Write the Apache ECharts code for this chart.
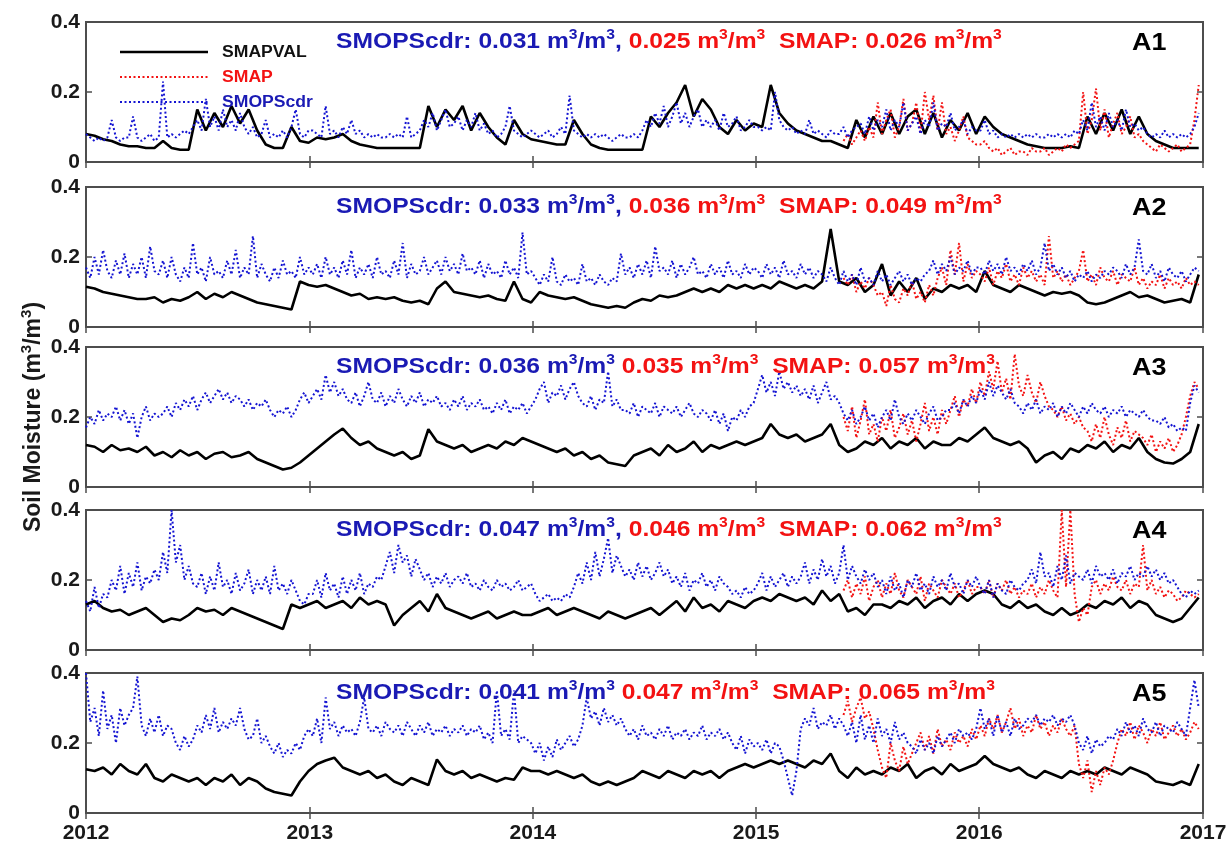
<!DOCTYPE html>
<html>
<head>
<meta charset="utf-8">
<script src="https://cdn.jsdelivr.net/npm/echarts@6/dist/echarts.min.js"></script>
<style>html,body{margin:0;padding:0;background:#fff}#c{width:1230px;height:845px}</style>
</head>
<body>
<div id="c"></div>
<script>
// ---------------- DATA ----------------
const years = ['2012','2013','2014','2015','2016','2017'];
const panelNames = ['A1','A2','A3','A4','A5'];
const smopsErr = ['0.031','0.033','0.036','0.047','0.041'];
const smopsSmapErr = ['0.025','0.036','0.035','0.046','0.047'];
const smapErr = ['0.026','0.049','0.057','0.062','0.065'];
const hasComma = [true, true, false, true, false];

// SMAPVAL (black), one value every 14 days from 2012-01-01
const smapval1 = [0.08,0.075,0.065,0.06,0.05,0.045,0.045,0.04,0.04,0.06,0.04,0.035,0.035,0.15,0.09,0.14,0.1,0.16,0.11,0.15,0.09,0.05,0.04,0.04,0.1,0.06,0.055,
 0.07,0.065,0.07,0.08,0.06,0.05,0.045,0.04,0.04,0.04,0.04,0.04,0.04,0.16,0.1,0.15,0.12,0.16,0.09,0.14,0.1,0.07,0.05,0.12,0.08,0.065,
 0.06,0.055,0.05,0.05,0.12,0.08,0.05,0.04,0.035,0.035,0.035,0.035,0.035,0.13,0.1,0.14,0.17,0.22,0.13,0.18,0.15,0.1,0.08,0.12,0.09,0.11,
 0.1,0.22,0.14,0.11,0.09,0.08,0.07,0.06,0.06,0.05,0.04,0.12,0.07,0.13,0.08,0.14,0.08,0.13,0.15,0.08,0.14,0.07,0.12,0.09,0.14,0.08,
 0.13,0.1,0.08,0.07,0.06,0.05,0.045,0.04,0.04,0.04,0.045,0.04,0.13,0.08,0.14,0.09,0.15,0.08,0.13,0.08,0.06,0.05,0.04,0.04,0.04,0.04];
const smapval2 = [0.115,0.11,0.1,0.095,0.09,0.085,0.08,0.08,0.085,0.07,0.08,0.075,0.085,0.1,0.08,0.095,0.085,0.1,0.09,0.08,0.07,0.065,0.06,0.055,0.05,0.13,0.12,
 0.115,0.12,0.11,0.1,0.09,0.095,0.08,0.085,0.08,0.085,0.075,0.07,0.075,0.065,0.11,0.13,0.1,0.095,0.09,0.085,0.09,0.08,0.075,0.13,0.08,0.07,
 0.1,0.09,0.085,0.08,0.085,0.075,0.065,0.06,0.055,0.06,0.055,0.07,0.08,0.075,0.09,0.085,0.09,0.1,0.11,0.1,0.11,0.1,0.12,0.11,0.12,0.11,
 0.12,0.11,0.13,0.12,0.11,0.12,0.11,0.13,0.28,0.13,0.12,0.14,0.1,0.12,0.18,0.09,0.13,0.1,0.14,0.08,0.11,0.1,0.12,0.11,0.12,0.1,
 0.16,0.12,0.11,0.1,0.12,0.11,0.1,0.09,0.1,0.095,0.1,0.09,0.07,0.065,0.07,0.08,0.09,0.1,0.085,0.09,0.08,0.07,0.075,0.08,0.07,0.15];
const smapval3 = [0.12,0.115,0.1,0.12,0.105,0.11,0.1,0.115,0.09,0.1,0.085,0.105,0.09,0.1,0.08,0.095,0.1,0.085,0.09,0.1,0.08,0.07,0.06,0.05,0.055,0.07,0.09,
 0.11,0.13,0.15,0.167,0.14,0.12,0.13,0.11,0.1,0.09,0.1,0.08,0.09,0.165,0.13,0.12,0.11,0.12,0.1,0.11,0.12,0.11,0.13,0.12,0.14,0.13,
 0.12,0.11,0.1,0.11,0.09,0.1,0.08,0.09,0.07,0.065,0.06,0.09,0.1,0.11,0.09,0.12,0.1,0.11,0.13,0.1,0.12,0.11,0.12,0.13,0.12,0.13,
 0.14,0.18,0.15,0.14,0.15,0.13,0.14,0.15,0.18,0.12,0.1,0.11,0.13,0.12,0.14,0.11,0.13,0.12,0.14,0.11,0.13,0.12,0.12,0.14,0.13,0.15,
 0.17,0.14,0.13,0.12,0.13,0.11,0.07,0.09,0.1,0.08,0.11,0.1,0.12,0.11,0.13,0.1,0.12,0.11,0.14,0.1,0.08,0.07,0.067,0.08,0.1,0.18];
const smapval4 = [0.13,0.14,0.12,0.11,0.115,0.1,0.11,0.12,0.1,0.08,0.09,0.085,0.1,0.12,0.11,0.115,0.1,0.12,0.11,0.1,0.09,0.08,0.07,0.06,0.13,0.12,0.13,
 0.14,0.12,0.13,0.14,0.12,0.15,0.13,0.14,0.13,0.07,0.1,0.12,0.14,0.11,0.16,0.12,0.11,0.1,0.09,0.1,0.11,0.09,0.1,0.11,0.1,0.1,
 0.11,0.12,0.1,0.11,0.12,0.11,0.1,0.09,0.11,0.1,0.09,0.1,0.11,0.12,0.1,0.12,0.14,0.11,0.15,0.12,0.13,0.11,0.14,0.13,0.12,0.14,
 0.15,0.14,0.16,0.15,0.14,0.15,0.13,0.17,0.14,0.16,0.11,0.12,0.1,0.13,0.13,0.12,0.14,0.13,0.15,0.12,0.14,0.15,0.13,0.16,0.14,0.16,
 0.17,0.16,0.13,0.12,0.14,0.12,0.13,0.11,0.1,0.12,0.1,0.11,0.13,0.12,0.14,0.13,0.15,0.12,0.14,0.13,0.1,0.09,0.08,0.09,0.12,0.15];
const smapval5 = [0.125,0.12,0.13,0.11,0.14,0.12,0.11,0.14,0.1,0.09,0.11,0.1,0.09,0.1,0.08,0.1,0.09,0.11,0.08,0.1,0.09,0.07,0.06,0.055,0.05,0.09,0.12,
 0.14,0.15,0.158,0.13,0.12,0.11,0.12,0.1,0.11,0.09,0.08,0.1,0.09,0.08,0.153,0.12,0.11,0.12,0.1,0.11,0.1,0.09,0.1,0.095,0.13,0.12,
 0.12,0.11,0.12,0.11,0.1,0.11,0.09,0.08,0.09,0.08,0.09,0.1,0.12,0.11,0.1,0.12,0.11,0.1,0.12,0.11,0.12,0.1,0.12,0.13,0.14,0.13,
 0.14,0.15,0.14,0.15,0.14,0.13,0.15,0.14,0.17,0.12,0.1,0.13,0.11,0.12,0.11,0.13,0.12,0.14,0.1,0.12,0.13,0.11,0.14,0.12,0.13,0.14,
 0.163,0.14,0.13,0.12,0.13,0.11,0.1,0.12,0.11,0.1,0.12,0.11,0.12,0.11,0.13,0.12,0.11,0.13,0.12,0.11,0.09,0.085,0.08,0.09,0.08,0.14];

// SMOPScdr (blue), one value every 7 days from 2012-01-01
const smops1 = [0.08,0.07,0.06,0.07,0.06,0.07,0.12,0.07,0.06,0.07,0.07,0.13,0.07,0.06,0.07,0.08,0.06,0.07,0.23,0.07,0.08,0.07,0.08,0.09,0.08,0.1,
 0.12,0.09,0.18,0.1,0.13,0.09,0.15,0.1,0.12,0.09,0.14,0.1,0.08,0.1,0.07,0.08,0.12,0.07,0.08,0.07,0.09,0.07,0.1,0.15,0.08,0.07,0.09,
 0.09,0.08,0.07,0.16,0.08,0.09,0.07,0.1,0.08,0.12,0.08,0.09,
 0.07,0.08,0.07,0.08,0.07,0.07,0.08,0.07,0.08,0.07,0.13,0.07,0.08,0.09,
 0.12,0.1,0.14,0.09,0.12,0.15,0.1,0.11,0.13,0.09,0.12,0.1,0.14,0.09,0.11,
 0.08,0.09,0.07,0.08,0.1,0.16,0.09,0.08,0.07,0.08,0.09,
 0.08,0.07,0.08,0.09,0.07,0.08,0.1,0.08,0.19,0.09,0.08,0.07,0.08,
 0.07,0.08,0.07,0.08,0.07,0.06,0.07,0.08,0.07,0.07,0.08,0.07,0.09,
 0.12,0.1,0.14,0.11,0.16,0.1,0.13,0.17,0.11,0.14,0.1,0.13,0.15,0.1,0.12,
 0.1,0.12,0.09,0.14,0.1,0.11,0.13,0.09,0.1,0.12,0.1,
 0.1,0.09,0.1,0.09,0.2,0.12,0.1,0.09,0.1,0.08,0.09,0.08,0.12,
 0.08,0.09,0.08,0.07,0.09,0.08,0.08,0.1,0.07,0.09,0.1,
 0.11,0.08,0.13,0.09,0.12,0.1,0.15,0.09,0.12,0.1,0.17,0.09,0.11,0.13,0.08,0.12,0.1,0.17,0.09,0.11,0.1,0.14,0.09,0.1,0.12,0.08,0.1,0.09,
 0.09,0.12,0.08,0.09,0.07,0.08,0.07,0.08,0.07,0.08,0.07,0.08,
 0.07,0.08,0.07,0.07,0.08,0.07,0.08,0.07,0.08,0.07,0.09,0.08,
 0.12,0.09,0.17,0.1,0.13,0.09,0.14,0.1,0.12,0.09,0.15,0.1,0.11,0.09,0.1,
 0.08,0.07,0.08,0.07,0.09,0.07,0.08,0.07,0.08,0.07,0.08,0.1,0.14];
const smops2 = [0.17,0.14,0.2,0.15,0.22,0.16,0.14,0.19,0.15,0.21,0.14,0.18,0.15,0.2,0.14,0.23,0.16,0.15,0.19,0.14,0.2,0.15,0.13,0.17,0.14,0.24,0.15,0.17,0.13,0.2,0.15,0.16,0.14,0.19,0.15,0.22,0.14,0.17,0.15,0.26,0.14,0.18,0.15,0.13,0.17,0.14,0.19,0.15,0.16,0.14,0.2,0.15,0.17,
 0.15,0.18,0.14,0.2,0.15,0.17,0.14,0.19,0.15,0.22,0.14,0.17,0.15,0.18,0.14,0.2,0.15,0.16,0.14,0.19,0.15,0.24,0.14,0.18,0.15,0.16,0.2,0.15,0.17,0.19,0.15,0.2,0.16,0.18,0.15,0.21,0.16,0.17,0.15,0.19,0.14,0.18,0.15,0.16,0.14,0.19,0.15,0.17,0.14,0.27,0.15,0.16,
 0.14,0.12,0.15,0.13,0.2,0.13,0.12,0.15,0.13,0.14,0.12,0.18,0.13,0.14,0.12,0.15,0.13,0.12,0.14,0.13,0.21,0.15,0.17,0.14,0.18,0.15,0.19,0.14,0.23,0.16,0.17,0.15,0.19,0.14,0.18,0.15,0.17,0.2,0.15,0.16,0.14,0.18,0.15,0.17,0.14,0.19,0.15,0.16,0.14,0.18,0.15,0.17,
 0.16,0.14,0.18,0.15,0.17,0.14,0.19,0.15,0.16,0.14,0.18,0.15,0.17,0.14,0.16,0.15,0.13,0.17,0.14,0.12,0.16,0.13,0.15,0.12,0.17,0.13,0.14,0.12,0.16,0.13,0.15,0.12,0.14,0.16,0.13,0.15,0.12,0.14,0.13,0.15,0.16,0.19,0.15,0.18,0.16,0.2,0.15,0.17,0.16,0.19,0.15,0.17,
 0.17,0.15,0.19,0.16,0.18,0.15,0.2,0.16,0.17,0.15,0.18,0.16,0.19,0.15,0.17,0.24,0.16,0.18,0.15,0.17,0.14,0.16,0.13,0.15,0.14,0.16,0.13,0.15,0.14,0.16,0.15,0.17,0.16,0.14,0.18,0.15,0.17,0.25,0.16,0.15,0.18,0.14,0.16,0.13,0.17,0.15,0.14,0.16,0.13,0.15,0.17,0.16];
const smops3 = [0.17,0.2,0.18,0.22,0.19,0.21,0.2,0.23,0.19,0.22,0.18,0.21,0.14,0.2,0.23,0.19,0.21,0.2,0.21,0.23,0.2,0.24,0.22,0.25,0.23,0.26,0.22,0.25,0.27,0.24,0.26,0.28,0.25,0.27,0.24,0.26,0.25,0.23,0.25,0.22,0.24,0.23,0.25,0.22,0.2,0.22,0.21,0.23,0.2,0.22,0.25,0.27,0.24,
 0.26,0.28,0.25,0.32,0.27,0.3,0.26,0.28,0.25,0.24,0.27,0.23,0.26,0.3,0.25,0.24,0.27,0.23,0.26,0.24,0.28,0.25,0.23,0.26,0.24,0.27,0.23,0.25,0.24,0.26,0.23,0.24,0.22,0.25,0.23,0.26,0.22,0.24,0.23,0.25,0.22,0.23,0.21,0.24,0.22,0.25,0.21,0.23,0.22,0.24,0.21,0.23,
 0.25,0.28,0.3,0.24,0.27,0.26,0.29,0.25,0.28,0.3,0.26,0.24,0.23,0.26,0.22,0.25,0.24,0.33,0.23,0.25,0.22,0.22,0.21,0.24,0.2,0.23,0.22,0.21,0.24,0.2,0.23,0.22,0.21,0.23,0.2,0.22,0.24,0.21,0.2,0.22,0.21,0.19,0.22,0.18,0.21,0.16,0.2,0.19,0.22,0.2,0.23,0.24,
 0.28,0.32,0.27,0.3,0.26,0.33,0.28,0.3,0.27,0.29,0.26,0.28,0.25,0.29,0.24,0.27,0.3,0.25,0.26,0.24,0.21,0.19,0.22,0.18,0.2,0.23,0.19,0.21,0.17,0.2,0.22,0.19,0.25,0.2,0.18,0.21,0.19,0.22,0.2,0.18,0.21,0.23,0.19,0.2,0.22,0.22,0.24,0.21,0.25,0.23,0.26,0.24,
 0.28,0.25,0.3,0.26,0.29,0.27,0.25,0.28,0.24,0.23,0.21,0.24,0.22,0.25,0.21,0.23,0.22,0.24,0.2,0.23,0.21,0.24,0.22,0.2,0.23,0.21,0.24,0.22,0.21,0.23,0.2,0.22,0.21,0.23,0.2,0.22,0.21,0.2,0.22,0.2,0.19,0.19,0.18,0.2,0.17,0.18,0.16,0.17,0.16,0.24,0.29,0.27];
const smops4 = [0.14,0.11,0.18,0.12,0.16,0.15,0.2,0.17,0.24,0.16,0.22,0.18,0.25,0.17,0.21,0.19,0.23,0.2,0.28,0.22,0.4,0.25,0.3,0.2,0.24,0.19,0.18,0.22,0.16,0.21,0.17,0.25,0.18,0.2,0.16,0.22,0.17,0.19,0.23,0.16,0.2,0.17,0.21,0.16,0.24,0.17,0.19,0.16,0.2,0.17,0.14,0.13,0.16,
 0.16,0.2,0.15,0.22,0.17,0.19,0.15,0.21,0.16,0.2,0.17,0.22,0.16,0.19,0.18,0.21,0.2,0.24,0.28,0.22,0.3,0.25,0.27,0.21,0.26,0.23,0.2,0.22,0.18,0.21,0.19,0.22,0.18,0.2,0.21,0.19,0.22,0.18,0.19,0.17,0.2,0.18,0.17,0.2,0.18,0.19,0.17,0.18,0.2,0.17,0.18,0.19,
 0.16,0.14,0.15,0.16,0.14,0.15,0.14,0.16,0.15,0.18,0.22,0.19,0.25,0.2,0.28,0.21,0.26,0.32,0.22,0.27,0.24,0.21,0.23,0.2,0.25,0.21,0.24,0.2,0.22,0.25,0.21,0.23,0.19,0.21,0.18,0.22,0.17,0.2,0.19,0.22,0.18,0.2,0.17,0.21,0.19,0.18,0.16,0.17,0.15,0.18,0.16,0.17,
 0.19,0.22,0.17,0.21,0.18,0.2,0.22,0.18,0.21,0.19,0.21,0.25,0.19,0.23,0.2,0.26,0.21,0.24,0.19,0.22,0.3,0.2,0.24,0.21,0.19,0.23,0.2,0.22,0.18,0.2,0.16,0.21,0.17,0.19,0.15,0.2,0.18,0.22,0.17,0.19,0.16,0.21,0.18,0.2,0.17,0.22,0.18,0.19,0.16,0.2,0.18,0.21,
 0.18,0.16,0.2,0.15,0.19,0.17,0.16,0.2,0.18,0.17,0.19,0.2,0.23,0.19,0.28,0.21,0.22,0.18,0.24,0.2,0.27,0.19,0.22,0.21,0.2,0.23,0.19,0.24,0.21,0.22,0.2,0.23,0.19,0.22,0.21,0.24,0.2,0.22,0.21,0.24,0.21,0.23,0.2,0.22,0.19,0.2,0.18,0.16,0.15,0.17,0.16,0.17];
const smops5 = [0.4,0.26,0.3,0.22,0.35,0.24,0.28,0.2,0.3,0.25,0.28,0.3,0.39,0.25,0.22,0.27,0.23,0.28,0.22,0.25,0.24,0.2,0.18,0.22,0.19,0.21,0.25,0.23,0.28,0.24,0.3,0.23,0.26,0.24,0.27,0.25,0.3,0.24,0.21,0.22,0.27,0.2,0.22,0.19,0.17,0.2,0.16,0.18,0.17,0.2,0.18,0.22,0.24,
 0.22,0.27,0.2,0.33,0.24,0.26,0.22,0.25,0.23,0.24,0.22,0.26,0.33,0.24,0.23,0.25,0.22,0.26,0.24,0.23,0.25,0.22,0.26,0.24,0.22,0.25,0.23,0.26,0.22,0.24,0.23,0.25,0.22,0.24,0.23,0.25,0.22,0.24,0.23,0.25,0.21,0.23,0.2,0.35,0.22,0.24,0.21,0.35,0.2,0.22,0.21,0.2,
 0.17,0.2,0.15,0.19,0.16,0.21,0.18,0.2,0.22,0.19,0.21,0.25,0.33,0.27,0.29,0.25,0.3,0.26,0.28,0.25,0.27,0.24,0.22,0.24,0.21,0.25,0.22,0.23,0.21,0.24,0.22,0.25,0.21,0.23,0.22,0.24,0.21,0.23,0.22,0.25,0.21,0.23,0.22,0.24,0.21,0.23,0.2,0.18,0.22,0.17,0.21,0.19,
 0.2,0.18,0.21,0.17,0.2,0.19,0.15,0.1,0.05,0.12,0.24,0.27,0.25,0.3,0.24,0.26,0.25,0.28,0.24,0.27,0.25,0.22,0.26,0.2,0.28,0.21,0.25,0.2,0.27,0.22,0.24,0.2,0.26,0.21,0.23,0.2,0.19,0.17,0.21,0.18,0.2,0.17,0.22,0.19,0.21,0.23,0.2,0.24,0.22,0.23,0.21,0.24,
 0.3,0.24,0.27,0.22,0.28,0.23,0.26,0.22,0.27,0.24,0.25,0.27,0.26,0.28,0.25,0.27,0.26,0.28,0.25,0.27,0.26,0.28,0.25,0.2,0.18,0.22,0.17,0.21,0.19,0.2,0.22,0.21,0.24,0.22,0.26,0.23,0.25,0.22,0.27,0.24,0.23,0.26,0.22,0.25,0.24,0.23,0.26,0.24,0.22,0.3,0.38,0.3];

// SMAP (red), one value every 7 days from day 1239 (late May 2015)
const smap1 = [0.06,0.08,0.05,0.07,0.09,0.06,0.1,0.07,
 0.17,0.08,0.12,0.15,0.07,0.1,0.18,0.09,0.11,0.17,0.08,0.2,0.12,0.19,0.09,0.17,0.08,0.1,0.06,0.09,0.13,0.07,0.06,0.05,
 0.05,0.06,0.04,0.03,0.04,0.02,0.03,0.04,0.02,0.03,0.03,0.02,0.04,0.03,0.03,0.04,0.02,0.03,0.04,0.03,0.05,0.04,0.05,0.06,
 0.2,0.08,0.12,0.21,0.09,0.15,0.07,0.11,0.14,0.08,0.1,0.13,0.07,0.08,
 0.06,0.05,0.04,0.03,0.05,0.04,0.03,0.04,0.05,0.03,0.04,0.05,0.12,0.22];
const smap2 = [0.14,0.12,0.15,0.1,0.13,0.11,0.14,0.12,
 0.09,0.1,0.06,0.12,0.08,0.07,0.11,0.09,0.13,0.08,0.1,0.07,0.12,0.09,
 0.14,0.17,0.12,0.22,0.15,0.24,0.13,0.18,0.14,0.16,
 0.15,0.13,0.17,0.12,0.16,0.14,0.18,0.13,0.15,0.12,0.17,0.14,0.16,0.13,0.15,0.12,0.26,0.14,0.16,0.13,
 0.15,0.12,0.14,0.16,0.22,0.13,0.15,0.12,0.17,0.14,0.13,0.16,0.12,0.15,0.14,0.13,0.17,0.12,0.14,0.11,
 0.13,0.12,0.15,0.11,0.14,0.12,0.13,0.11,0.14,0.12,0.13,0.12];
const smap3 = [0.2,0.16,0.23,0.14,0.19,0.25,0.15,0.18,0.13,0.2,0.16,0.22,0.14,0.17,0.21,0.15,0.19,0.13,0.18,0.24,0.16,0.2,0.15,0.22,0.18,
 0.22,0.26,0.2,0.25,0.23,0.28,0.24,
 0.3,0.26,0.33,0.28,0.36,0.27,0.31,0.25,0.38,0.29,0.26,0.32,0.27,0.24,0.3,0.26,0.23,
 0.22,0.2,0.23,0.19,0.21,0.18,0.2,0.17,
 0.16,0.13,0.18,0.14,0.2,0.15,0.12,0.17,0.14,0.19,0.13,0.16,0.15,
 0.14,0.12,0.15,0.1,0.13,0.11,0.14,0.1,
 0.12,0.15,0.2,0.26,0.3,0.28];
const smap4 = [0.17,0.2,0.15,0.19,0.16,0.21,0.14,0.18,0.2,0.15,0.19,0.16,0.22,0.17,0.15,0.2,0.18,0.16,0.21,0.14,0.19,0.17,0.15,0.2,0.18,0.16,0.19,0.15,0.17,0.2,0.16,0.18,
 0.18,0.16,0.2,0.15,0.19,0.17,0.2,0.16,0.18,0.15,0.17,
 0.16,0.19,0.15,0.18,0.16,0.2,0.17,0.15,
 0.4,0.18,0.4,0.16,
 0.08,0.12,0.1,
 0.18,0.2,0.16,0.19,0.17,0.21,0.18,0.17,0.2,0.16,0.19,0.18,0.3,0.17,0.2,0.16,0.18,0.15,0.17,0.16,0.14,0.15,0.17,0.16,0.15,0.16];
const smap5 = [0.28,0.32,0.26,0.3,0.33,0.27,0.29,0.24,
 0.18,0.13,0.1,0.2,0.15,0.12,0.19,0.14,0.17,
 0.2,0.23,0.18,0.22,0.17,0.24,0.19,0.21,0.18,0.23,0.2,0.22,0.19,0.24,0.21,
 0.25,0.22,0.27,0.24,0.28,0.23,0.26,0.3,0.24,0.27,0.22,0.25,0.23,0.28,0.24,0.26,0.22,0.25,0.23,0.27,0.24,0.22,0.25,
 0.14,0.1,0.15,0.06,0.12,0.08,0.13,0.11,0.15,
 0.2,0.24,0.22,0.26,0.21,0.25,0.23,0.2,0.24,0.22,0.26,0.21,0.23,0.25,0.22,0.24,0.21,0.23,0.26,
 0.24];

const smapvalAll = [smapval1, smapval2, smapval3, smapval4, smapval5];
const smopsAll = [smops1, smops2, smops3, smops4, smops5];
const smapAll = [smap1, smap2, smap3, smap4, smap5];

// ---------------- CHART ----------------
const DAY = 86400000;
const T0 = Date.UTC(2012, 0, 1);
function pairs(vals, startDay, step) { return vals.map((v, k) => [T0 + (startDay + k * step) * DAY, v]); }
const yearTimes = years.map(y => Date.UTC(+y, 0, 1));

const FONT = '"Liberation Sans", Arial, Helvetica, sans-serif';
const BLUE_LINE = '#1414d2';
const BLUE_TEXT = '#1a1ab4';
const RED = '#f31212';
const AXIS = '#4d4d4d';
const tops = [22, 187, 347, 510, 673];
const H = 140;

const grid = [], xAxis = [], yAxis = [], series = [], graphic = [];
for (let p = 0; p < 5; p++) {
  grid.push({ left: 86, right: 27, top: tops[p], height: H, show: true, borderColor: AXIS, borderWidth: 2, backgroundColor: 'transparent' });
  const last = p === 4;
  const baseX = {
    type: 'value', gridIndex: p, min: yearTimes[0], max: yearTimes[5], scale: true,
    axisLine: { show: false }, splitLine: { show: false },
    axisTick: { show: true, inside: true, length: 6, lineStyle: { color: AXIS, width: 1.5 }, customValues: yearTimes },
  };
  xAxis.push(Object.assign({}, baseX, {
    position: 'bottom',
    axisLabel: { show: last, customValues: yearTimes, formatter: v => String(new Date(v).getUTCFullYear()),
      fontFamily: FONT, fontWeight: 'bold', fontSize: 21, color: '#1a1a1a', margin: 10, hideOverlap: false, showMinLabel: true, showMaxLabel: true }
  }));
  xAxis.push(Object.assign({}, baseX, { position: 'top', axisLabel: { show: false } }));
  const baseY = {
    type: 'value', gridIndex: p, min: 0, max: 0.4, interval: 0.2,
    axisLine: { show: false }, splitLine: { show: false },
    axisTick: { show: true, inside: true, length: 6, lineStyle: { color: AXIS, width: 1.5 } },
  };
  yAxis.push(Object.assign({}, baseY, {
    position: 'left',
    axisLabel: { show: true, fontFamily: FONT, fontWeight: 'bold', fontSize: 21, color: '#1a1a1a', margin: 6,
      formatter: v => (v === 0 ? '0' : String(+v.toFixed(1))) }
  }));
  yAxis.push(Object.assign({}, baseY, { position: 'right', axisLabel: { show: false } }));

  series.push({
    name: 'SMAPVAL', type: 'line', xAxisIndex: 2 * p, yAxisIndex: 2 * p, showSymbol: false, symbol: 'none',
    data: pairs(smapvalAll[p], 0, 14), lineStyle: { color: '#000', width: 2.6 }, z: 2, silent: true
  });
  series.push({
    name: 'SMAP', type: 'line', xAxisIndex: 2 * p, yAxisIndex: 2 * p, showSymbol: false, symbol: 'none',
    data: pairs(smapAll[p], 1239, 7), lineStyle: { color: RED, width: 2, type: [2, 2.5] }, z: 3, silent: true
  });
  series.push({
    name: 'SMOPScdr', type: 'line', xAxisIndex: 2 * p, yAxisIndex: 2 * p, showSymbol: false, symbol: 'none',
    data: pairs(smopsAll[p], 0, 7), lineStyle: { color: BLUE_LINE, width: 2, type: [2, 2.5] }, z: 4, silent: true
  });

  const txt = '{b|SMOPScdr: ' + smopsErr[p] + ' m}{bs|3}{b|/m}{bs|3}{b|' + (hasComma[p] ? ',' : '') + ' }' +
              '{r|' + smopsSmapErr[p] + ' m}{rs|3}{r|/m}{rs|3}{r|  SMAP: ' + smapErr[p] + ' m}{rs|3}{r|/m}{rs|3}';
  graphic.push({
    type: 'text', x: 336, y: tops[p] + 6, scaleX: 1.12, z: 10,
    style: {
      text: txt, align: 'left', verticalAlign: 'top',
      rich: {
        b: { fontFamily: FONT, fontWeight: 'bold', fontSize: 22, fill: BLUE_TEXT, lineHeight: 25, verticalAlign: 'bottom' },
        bs: { fontFamily: FONT, fontWeight: 'bold', fontSize: 14, fill: BLUE_TEXT, lineHeight: 14, verticalAlign: 'top' },
        r: { fontFamily: FONT, fontWeight: 'bold', fontSize: 22, fill: RED, lineHeight: 25, verticalAlign: 'bottom' },
        rs: { fontFamily: FONT, fontWeight: 'bold', fontSize: 14, fill: RED, lineHeight: 14, verticalAlign: 'top' }
      }
    }
  });
  graphic.push({
    type: 'text', x: 1132, y: tops[p] + 21, scaleX: 1.12, z: 10,
    style: { text: panelNames[p], fontFamily: FONT, fontWeight: 'bold', fontSize: 24, fill: '#000', align: 'left', verticalAlign: 'middle' }
  });
}

const legendItems = [
  { name: 'SMAPVAL', color: '#000', dash: null, width: 2.6, text: '#111', y: 52 },
  { name: 'SMAP', color: RED, dash: [2, 2.5], width: 2, text: RED, y: 77 },
  { name: 'SMOPScdr', color: BLUE_LINE, dash: [2, 2.5], width: 2, text: BLUE_TEXT, y: 102 }
];
legendItems.forEach(it => {
  graphic.push({ type: 'line', shape: { x1: 120, y1: it.y, x2: 208, y2: it.y }, z: 11,
    style: { stroke: it.color, lineWidth: it.width, lineDash: it.dash } });
  graphic.push({ type: 'text', x: 222, y: it.y + 1, scaleX: 1.1, z: 11,
    style: { text: it.name, fontFamily: FONT, fontWeight: 'bold', fontSize: 16, fill: it.text, align: 'left', verticalAlign: 'middle' } });
});

graphic.push({
  type: 'text', x: 32, y: 417, rotation: Math.PI / 2, z: 10,
  style: {
    text: '{t|Soil Moisture (m}{s|3}{t|/m}{s|3}{t|)}', align: 'center', verticalAlign: 'middle',
    rich: {
      t: { fontFamily: FONT, fontWeight: 'bold', fontSize: 23, fill: '#1a1a1a', lineHeight: 26, verticalAlign: 'bottom' },
      s: { fontFamily: FONT, fontWeight: 'bold', fontSize: 15, fill: '#1a1a1a', lineHeight: 15, verticalAlign: 'top' }
    }
  }
});

const chart = echarts.init(document.getElementById('c'), null, { renderer: 'canvas' });
chart.setOption({
  animation: false,
  backgroundColor: '#fff',
  grid, xAxis, yAxis, series, graphic
});
</script>
</body>
</html>
